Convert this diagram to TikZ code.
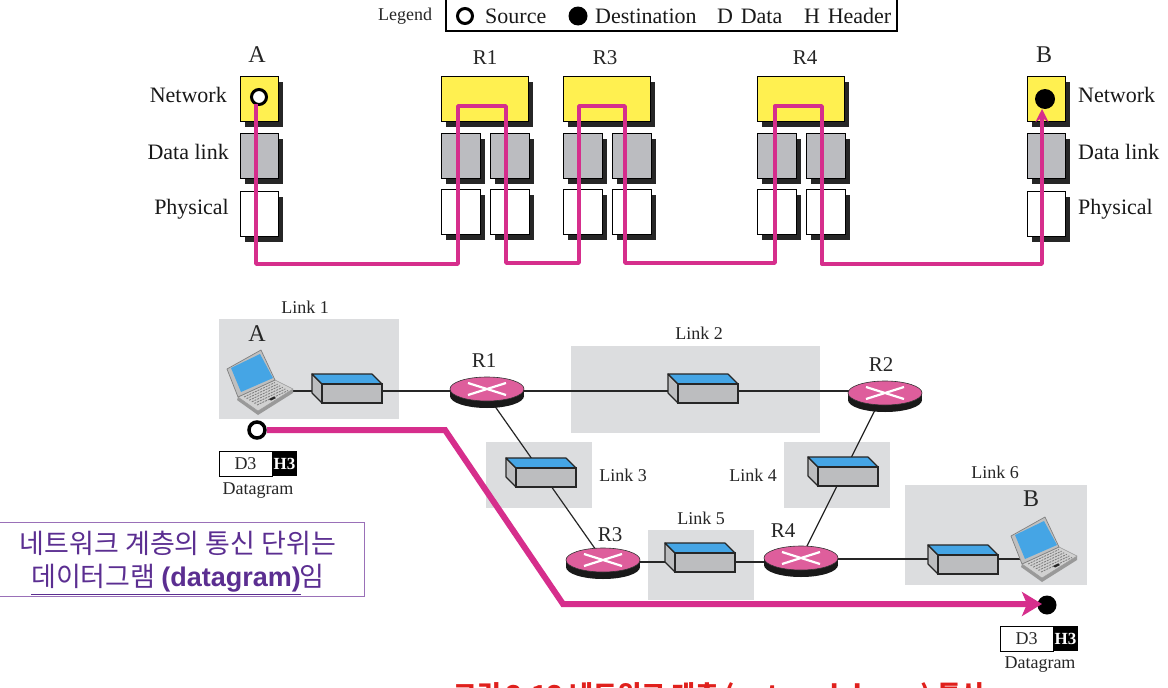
\documentclass[tikz,border=0pt]{standalone}
\usepackage{fontspec}
\setmainfont{Liberation Serif}
\newfontfamily\arialf{Liberation Sans}
\newfontfamily\krf{Noto Sans CJK KR}
\usetikzlibrary{shapes.geometric,arrows.meta,backgrounds,calc}
\definecolor{mag}{HTML}{D62E8C}
\definecolor{ylw}{HTML}{FFF050}
\definecolor{stgray}{HTML}{BBBCC0}
\definecolor{linkbg}{HTML}{DCDDDF}
\definecolor{rpink}{HTML}{DE5E9C}
\definecolor{swblue}{HTML}{45A5E5}
\definecolor{swgray}{HTML}{BCBDBF}
\definecolor{purp}{HTML}{5B2E91}
\definecolor{purpb}{HTML}{9A70B8}
\definecolor{titred}{HTML}{E0201C}
\tikzset{
  lbl/.style={font=\fontsize{22}{24}\selectfont,inner sep=0pt,text=black!90},
  smlbl/.style={font=\fontsize{18}{20}\selectfont,inner sep=0pt,text=black!85},
  biglbl/.style={font=\fontsize{24}{26}\selectfont,inner sep=0pt,text=black!85},
  rlbl/.style={font=\fontsize{21}{23}\selectfont,inner sep=0pt,text=black!85},
  stackbox/.style={draw=black,line width=1.8pt,inner sep=0pt,outer sep=0pt,anchor=north west},
  linkarea/.style={fill=linkbg,draw=none},
  wire/.style={draw=black!85,line width=1.2pt},
  routepath/.style={draw=mag,line width=3.4pt,line join=round},
  bigpath/.style={draw=mag,line width=6pt,line join=miter},
}
% stack box: name, x, y, w, h, colour
\newcommand{\stk}[6]{%
  \fill[black!85] (#2+5,#3+5.5) rectangle ++(#4,#5);
  \node[stackbox,fill=#6,minimum width=#4 pt,minimum height=#5 pt] (#1) at (#2+.5,#3+.5) {};
}
% router: name, x, y
\newcommand{\rtr}[3]{%
  \fill[black!90] (#2,#3+7) ellipse [x radius=37,y radius=12];
  \fill[black!90] (#2-37,#3) rectangle (#2+37,#3+7);
  \node[ellipse,draw=black!80,line width=.6pt,fill=rpink,minimum width=74pt,minimum height=24pt,inner sep=0pt] (#1) at (#2,#3) {};
  \draw[white,line width=2.2pt] (#2-19,#3+6) -- (#2+19,#3-6) (#2-19,#3-6) -- (#2+19,#3+6);
}
% switch: name, x, y of the front's top-left
\newcommand{\swt}[3]{%
  \fill[swgray,draw=black!85,line width=1.2pt,line join=round] (#2,#3) -- (#2-10,#3-10) -- (#2-10,#3+9) -- (#2,#3+19) -- cycle;
  \fill[swblue,draw=black!85,line width=1.2pt,line join=round] (#2,#3) -- (#2-10,#3-10) -- (#2+50,#3-10) -- (#2+60,#3) -- cycle;
  \node[draw=black!85,line width=1.2pt,fill=swgray,inner sep=0pt,outer sep=0pt,minimum width=60pt,minimum height=19pt,anchor=north west] (#1) at (#2,#3) {};
}
% laptop: name, x, y of the lid's top-left corner
\newcommand{\lap}[3]{%
  \begin{scope}[shift={(#2,#3)}]
    \fill[black!40] (11,28) -- (66,20) -- (66,24) -- (31,46) -- (10,31) -- cycle;
    \fill[black!18,draw=black!40,line width=.5pt,line join=round] (11,28) -- (48,11) -- (66,20) -- (31,42) -- cycle;
    \fill[black!25,draw=black!50,line width=.7pt,line join=round] (0,0) -- (34,-19) -- (48,11) -- (11,28) -- cycle;
    \fill[swblue] (4,-1) -- (33,-15) -- (46,9) -- (14,23) -- cycle;
    \foreach \i in {0,1,2,3,4,5}{
      \draw[black!50,line width=.9pt,dash pattern=on 2pt off 1pt]
        ($(17,28)+\i*(2.6,1.6)$) -- ($(48,13.5)+\i*(2.6,1.6)$);
    }
    \fill[black!85] (42,30) -- (47,27.5) -- (49,29) -- (44,31.5) -- cycle;
  \end{scope}
  \coordinate (#1) at (#2+40,#3+20);
}
\begin{document}
\begin{tikzpicture}[x=1pt,y=-1pt]
\useasboundingbox (0,0) rectangle (1168,688);
\clip (0,0) rectangle (1168,688);
\fill[white] (0,0) rectangle (1168,688);

% Legend
\node[font=\fontsize{18}{20}\selectfont,inner sep=0pt,anchor=west,text=black!85] (legt) at (378,16) {Legend};
\draw[black,line width=1.2pt] (446,-3) rectangle (897,31);
\node[circle,draw=black,line width=3pt,fill=white,minimum size=15pt,inner sep=0pt] (legs) at (465,16) {};
\node[lbl,anchor=west] (legst) at (485,16) {Source};
\node[circle,fill=black,minimum size=19pt,inner sep=0pt] (legd) at (578,16) {};
\node[lbl,anchor=west] (legdt) at (595,16) {Destination};
\node[lbl,anchor=west] (legdd) at (717,16) {D\hspace{.35em}Data};
\node[lbl,anchor=west] (leghh) at (804,16) {H\hspace{.35em}Header};

% Stack labels
\node[biglbl] (ta) at (257,55) {A};
\node[rlbl] (tr1) at (485,58) {R1};
\node[rlbl] (tr3) at (605,58) {R3};
\node[rlbl] (tr4) at (805,58) {R4};
\node[biglbl] (tb) at (1044,55) {B};
\node[lbl,anchor=east] (ln) at (227,95) {Network};
\node[lbl,anchor=east] (ld) at (229,152) {Data link};
\node[lbl,anchor=east] (lp) at (229,209) {Physical};
\node[lbl,anchor=west] (rn) at (1078,95) {Network};
\node[lbl,anchor=west] (rd) at (1078,152) {Data link};
\node[lbl,anchor=west] (rp) at (1078,209) {Physical};

% Stacks
\stk{an}{240}{76}{38}{45}{ylw}
\stk{ad}{240}{133}{38}{45}{stgray}
\stk{ap}{240}{191}{38}{45}{white}
\stk{bn}{1027}{76}{38}{45}{ylw}
\stk{bd}{1027}{133}{38}{45}{stgray}
\stk{bp}{1027}{191}{38}{45}{white}
\foreach \nm/\x in {ra/441,rb/563,rc/757}{
  \stk{\nm n}{\x}{76}{87}{45}{ylw}
  \stk{\nm dl}{\x}{133}{39}{45}{stgray}
  \stk{\nm dr}{\x+49}{133}{39}{45}{stgray}
  \stk{\nm pl}{\x}{189}{39}{45}{white}
  \stk{\nm pr}{\x+49}{189}{39}{45}{white}
}
\node[circle,draw=black,line width=3pt,fill=white,minimum size=15pt,inner sep=0pt] (asrc) at (259,97) {};
\node[circle,fill=black,minimum size=20pt,inner sep=0pt] (bdst) at (1045,99) {};

% Route through the stacks
\coordinate (q0) at (256,104);
\coordinate (q1) at (256,264);
\coordinate (q2) at (458,264);
\coordinate (q3) at (458,106);
\coordinate (q4) at (506,106);
\coordinate (q5) at (506,263);
\coordinate (q6) at (579,263);
\coordinate (q7) at (579,106);
\coordinate (q8) at (625,106);
\coordinate (q9) at (625,263);
\coordinate (q10) at (775,263);
\coordinate (q11) at (775,106);
\coordinate (q12) at (822,106);
\coordinate (q13) at (822,264);
\coordinate (q14) at (1042,264);
\coordinate (q15) at (1042,109);
\draw[routepath,-{Stealth[length=13pt,width=13pt]}] (q0) -- (q1) -- (q2) -- (q3) -- (q4) -- (q5) -- (q6) -- (q7) -- (q8) -- (q9) -- (q10) -- (q11) -- (q12) -- (q13) -- (q14) -- (q15);

% Link areas
\fill[linkarea] (219,319) rectangle (399,419);
\fill[linkarea] (571,346) rectangle (820,433);
\fill[linkarea] (486,442) rectangle (592,508);
\fill[linkarea] (784,442) rectangle (890,508);
\fill[linkarea] (648,530) rectangle (754,600);
\fill[linkarea] (905,485) rectangle (1087,585);

% Devices' attachment points
\coordinate (lapAp) at (290,391);
\coordinate (lapBp) at (1020,559);
\coordinate (s1p) at (352,391);
\coordinate (s2p) at (707,391);
\coordinate (s5p) at (704,562);
\coordinate (s6p) at (967,559);
\coordinate (r1p) at (487,391);
\coordinate (r2p) at (885,391);
\coordinate (r3p) at (603,562);
\coordinate (r4p) at (801,562);
\coordinate (r4q) at (801,559);
\coordinate (r1c) at (487,395);
\coordinate (r3c) at (603,560);
\coordinate (r2c) at (880,400);
\coordinate (r4c) at (801,558);
\draw[wire] (lapAp) -- (s1p) -- (r1p) -- (s2p) -- (r2p);
\draw[wire] (r3p) -- (s5p) -- (r4p);
\draw[wire] (r4q) -- (s6p) -- (lapBp);
\draw[wire] (r1c) -- (r3c);
\draw[wire] (r2c) -- (r4c);

\swt{s1}{322}{384}
\swt{s2}{678}{384}
\swt{s3}{516}{468}
\swt{s4}{818}{467}
\swt{s5}{675}{553}
\swt{s6}{938}{555}
\rtr{r1}{487}{389}
\rtr{r2}{885}{393}
\rtr{r3}{603}{560}
\rtr{r4}{801}{558}
\lap{lapA}{227}{369}
\lap{lapB}{1011}{536}

% Network labels
\node[smlbl] (k1) at (305,307) {Link 1};
\node[smlbl] (k2) at (699,333) {Link 2};
\node[smlbl] (k3) at (623,475) {Link 3};
\node[smlbl] (k4) at (753,475) {Link 4};
\node[smlbl] (k5) at (701,518) {Link 5};
\node[smlbl] (k6) at (995,472) {Link 6};
\node[biglbl] (na) at (257,334) {A};
\node[biglbl] (nb) at (1031,499) {B};
\node[rlbl] (nr1) at (484,361) {R1};
\node[rlbl] (nr2) at (881,365) {R2};
\node[rlbl] (nr3) at (610,535) {R3};
\node[rlbl] (nr4) at (783,531) {R4};

% Data path
\node[circle,draw=black,line width=3.5pt,fill=white,minimum size=16pt,inner sep=0pt] (src) at (257,430) {};
\node[circle,fill=black,minimum size=19pt,inner sep=0pt] (dst) at (1047,605) {};
\coordinate (b1) at (445,430);
\coordinate (b2) at (563,604);
\coordinate (b3) at (1042,604);
\draw[bigpath,-{Stealth[length=20pt,width=24pt,inset=5pt]}] (src.east) -- (b1) -- (b2) -- (b3);

% Datagrams
\node[draw=black,line width=1pt,fill=white,minimum width=53pt,minimum height=25pt,inner sep=0pt,outer sep=0pt,anchor=north west,font=\fontsize{18}{20}\selectfont,text=black!85] (da) at (219,451) {D3};
\node[fill=black,text=white,minimum width=25pt,minimum height=25pt,inner sep=0pt,outer sep=0pt,anchor=north west,font=\fontsize{17}{19}\selectfont\bfseries] (ha) at (272,451) {H3};
\node[smlbl] (dga) at (258,491) {Datagram};
\node[draw=black,line width=1pt,fill=white,minimum width=53pt,minimum height=25pt,inner sep=0pt,outer sep=0pt,anchor=north west,font=\fontsize{18}{20}\selectfont,text=black!85] (db) at (1000,626) {D3};
\node[fill=black,text=white,minimum width=25pt,minimum height=25pt,inner sep=0pt,outer sep=0pt,anchor=north west,font=\fontsize{17}{19}\selectfont\bfseries] (hb) at (1053,626) {H3};
\node[smlbl] (dgb) at (1040,665) {Datagram};

% Note
\node[draw=purpb,line width=1pt,fill=white,minimum width=366pt,minimum height=74pt,inner sep=0pt,outer sep=0pt,anchor=north west] (note) at (-2,522) {};
\node[inner sep=0pt,text=purp,font=\fontsize{27}{33}\selectfont,align=center] (notet) at (178,563) {%
  {\krf 네트워크 계층의 통신 단위는}\\
  $\underline{\hbox{\krf 데이터그램 \arialf\bfseries (datagram)}}$\hspace{-1pt}{\krf 임}};

% Cut-off caption
\node[inner sep=0pt,anchor=base,text=titred,font=\fontsize{26}{28}\selectfont] (cap) at (719,704) {\krf\bfseries 그림 3.13 네트워크 계층 (network layer) 통신};
\end{tikzpicture}
\end{document}
